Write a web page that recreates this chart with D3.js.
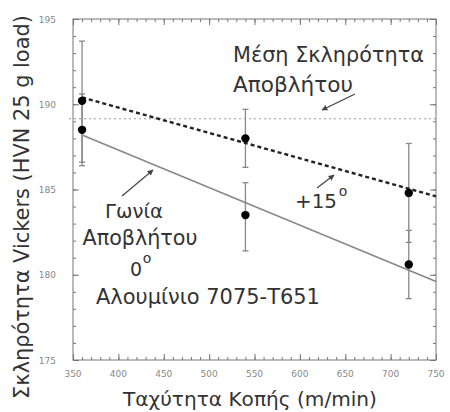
<!DOCTYPE html>
<html><head><meta charset="utf-8">
<script src="https://cdn.jsdelivr.net/npm/d3@7"></script>
<style>body{margin:0;background:#fff;} text{font-family:"DejaVu Sans","Noto Sans",sans-serif;}</style>
</head><body>
<svg id="c" width="450" height="412"></svg>
<script>
const speeds = [360, 540, 720];
const hard0 = [188.5, 183.5, 180.6];
const err0Low = [186.4, 181.4, 178.6];
const err0High = [190.6, 185.4, 182.6];
const hard15 = [190.2, 188.0, 184.8];
const err15Low = [186.6, 186.3, 181.9];
const err15High = [193.7, 189.7, 187.7];
const fit0X = [360, 750];
const fit0Y = [188.2, 179.6];
const fit15X = [360, 750];
const fit15Y = [190.4, 184.6];
const meanHardness = 189.15;
const xTicks = [350, 400, 450, 500, 550, 600, 650, 700, 750];
const yTicks = [175, 180, 185, 190, 195];

const W = 450, H = 412;
const m = {l: 73, r: 14, t: 19, b: 52};
const svg = d3.select("#c");
const x = d3.scaleLinear().domain([350, 750]).range([m.l, W - m.r]);
const y = d3.scaleLinear().domain([175, 195]).range([H - m.b, m.t]);
const axCol = "#777";

svg.append("rect").attr("x", m.l).attr("y", m.t).attr("width", W - m.l - m.r).attr("height", H - m.t - m.b)
  .attr("fill", "none").attr("stroke", axCol).attr("stroke-width", 1);

function ticks(axisGen, tr, size) {
  const g = svg.append("g").attr("transform", tr).call(axisGen.tickSize(size).tickFormat(""));
  g.select(".domain").remove();
  g.selectAll("line").attr("stroke", axCol);
}
const xMinor = d3.range(350, 751, 10), yMinor = d3.range(175, 195.01, 1);
ticks(d3.axisTop(x).tickValues(xMinor), `translate(0,${H - m.b})`, 3);
ticks(d3.axisTop(x).tickValues(xTicks), `translate(0,${H - m.b})`, 6);
ticks(d3.axisBottom(x).tickValues(xMinor), `translate(0,${m.t})`, 3);
ticks(d3.axisBottom(x).tickValues(xTicks), `translate(0,${m.t})`, 6);
ticks(d3.axisRight(y).tickValues(yMinor), `translate(${m.l},0)`, 3);
ticks(d3.axisRight(y).tickValues(yTicks), `translate(${m.l},0)`, 6);
ticks(d3.axisLeft(y).tickValues(yMinor), `translate(${W - m.r},0)`, 3);
ticks(d3.axisLeft(y).tickValues(yTicks), `translate(${W - m.r},0)`, 6);

svg.append("g").selectAll("text").data(xTicks).join("text")
  .attr("x", d => x(d)).attr("y", H - m.b + 17).attr("text-anchor", "middle")
  .attr("font-size", 9).attr("fill", "#888").text(d => d);
svg.append("g").selectAll("text").data(yTicks).join("text")
  .attr("x", m.l - 17).attr("y", d => y(d) + 3.5).attr("text-anchor", "end")
  .attr("font-size", 9).attr("fill", "#888").text(d => d);

function fitW(sel, w) {
  const len = sel.node().getComputedTextLength();
  const fs = parseFloat(sel.attr("font-size"));
  sel.attr("font-size", fs * w / len);
  return sel;
}

const xt = svg.append("text").attr("x", 250).attr("y", 406).attr("text-anchor", "middle")
  .attr("font-size", 20).attr("fill", "#333").text("Ταχύτητα Κοπής (m/min)");
fitW(xt, 254);
const yt = svg.append("text").attr("transform", `translate(29,207) rotate(-90)`)
  .attr("text-anchor", "middle").attr("font-size", 19).attr("fill", "#333")
  .text("Σκληρότητα Vickers (HVN 25 g load)");
fitW(yt, 384);

svg.append("line").attr("x1", m.l - 4).attr("x2", W - m.r).attr("y1", y(meanHardness)).attr("y2", y(meanHardness))
  .attr("stroke", "#999").attr("stroke-width", 1.2).attr("stroke-dasharray", "2,3");

function errBars(lo, hi) {
  const g = svg.append("g").attr("stroke", "#888").attr("stroke-width", 1.3);
  speeds.forEach((s, i) => {
    g.append("line").attr("x1", x(s)).attr("x2", x(s)).attr("y1", y(lo[i])).attr("y2", y(hi[i]));
    [lo[i], hi[i]].forEach(v => g.append("line").attr("x1", x(s) - 3).attr("x2", x(s) + 3).attr("y1", y(v)).attr("y2", y(v)));
  });
}
errBars(err15Low, err15High);
errBars(err0Low, err0High);

const line = d3.line().x(d => x(d[0])).y(d => y(d[1]));
svg.append("path").attr("d", line(d3.zip(fit0X, fit0Y))).attr("fill", "none")
  .attr("stroke", "#888").attr("stroke-width", 1.6);
svg.append("path").attr("d", line(d3.zip(fit15X, fit15Y))).attr("fill", "none")
  .attr("stroke", "#222").attr("stroke-width", 2.4).attr("stroke-dasharray", "4,3");

svg.append("g").selectAll("circle").data(d3.zip(speeds, hard0).concat(d3.zip(speeds, hard15))).join("circle")
  .attr("cx", d => x(d[0])).attr("cy", d => y(d[1])).attr("r", 4.2).attr("fill", "#000");

const txt = (t, xx, yy, fs, anchor, w) => {
  const s = svg.append("text").attr("x", xx).attr("y", yy)
    .attr("font-size", fs).attr("fill", "#333").attr("text-anchor", anchor || "start").text(t);
  if (w) fitW(s, w);
  return s;
};
txt("Μέση Σκληρότητα", 233, 62, 19, "start", 191);
txt("Αποβλήτου", 233, 92, 19, "start", 120);
txt("Γωνία", 134, 218, 19, "middle", 58);
txt("Αποβλήτου", 140, 245, 19, "middle", 115);
txt("0", 136, 276, 19, "middle");
txt("o", 147, 263, 14, "middle");
txt("+15", 295, 208, 19, "start", 42);
txt("o", 343, 196, 14, "middle");
txt("Αλουμίνιο 7075-T651", 96, 304, 19, "start", 224);

const defs = svg.append("defs");
defs.append("marker").attr("id", "ah").attr("viewBox", "0 0 10 10").attr("refX", 9).attr("refY", 5)
  .attr("markerWidth", 5).attr("markerHeight", 5).attr("orient", "auto")
  .append("path").attr("d", "M0,0L10,5L0,10z").attr("fill", "#444");
const arrow = (x1, y1, x2, y2) => svg.append("line").attr("x1", x1).attr("y1", y1).attr("x2", x2).attr("y2", y2)
  .attr("stroke", "#444").attr("stroke-width", 1.2).attr("marker-end", "url(#ah)");
arrow(355, 94, 322, 110);
arrow(122, 196, 153, 170);
arrow(317, 188, 334, 175);
</script>
</body></html>
